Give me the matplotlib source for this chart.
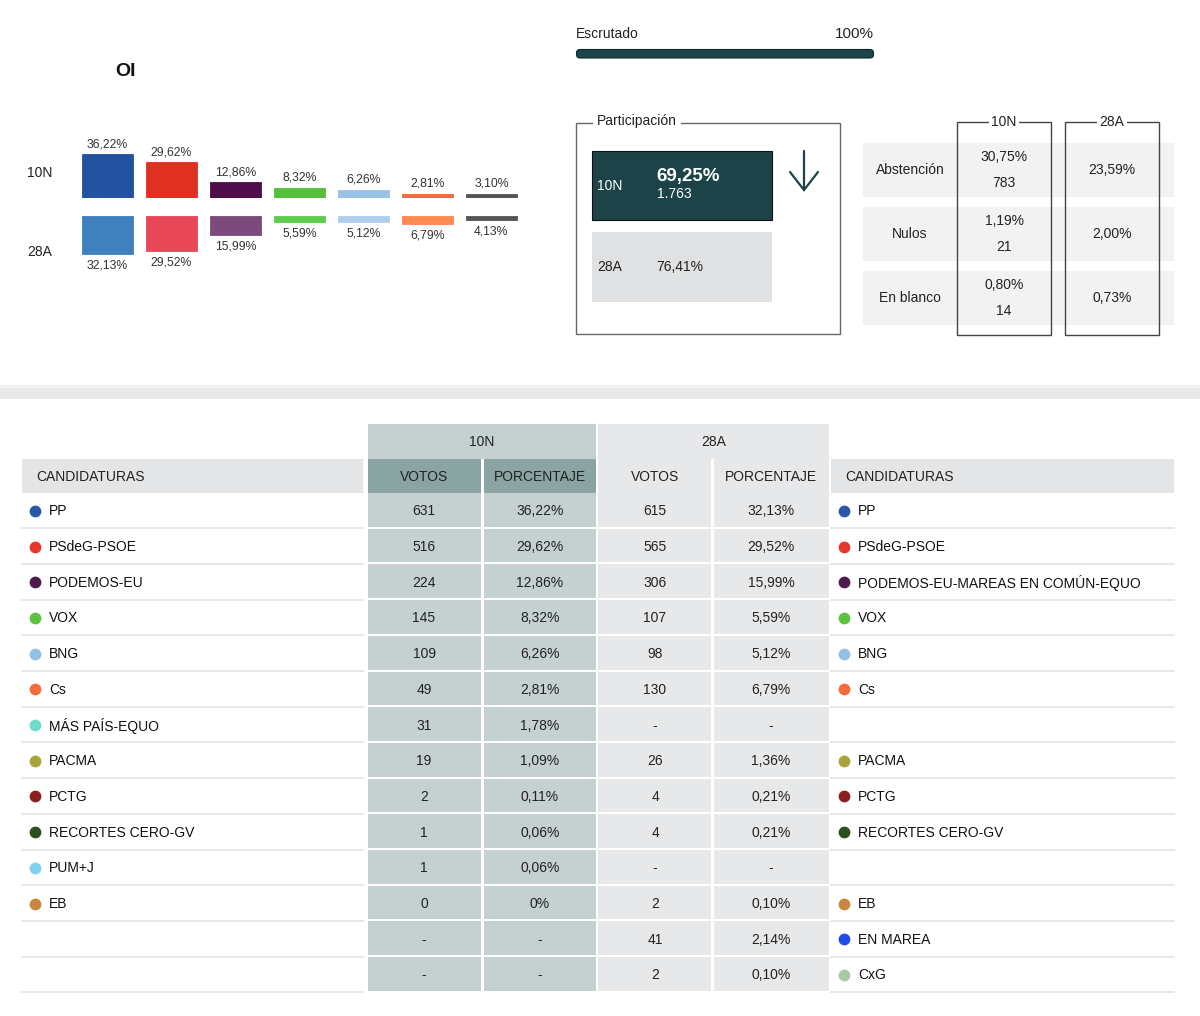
import matplotlib
matplotlib.use("Agg")
import matplotlib.pyplot as plt
from matplotlib.patches import Rectangle, FancyBboxPatch

plt.rcParams['font.family'] = ['Liberation Sans', 'DejaVu Sans']

# ---------------- data ----------------
title = "OI"
scrutiny_pct = 100
bar_parties = ["PP", "PSdeG-PSOE", "PODEMOS", "VOX", "BNG", "Cs", "Otros"]
bar_10n = [36.22, 29.62, 12.86, 8.32, 6.26, 2.81, 3.10]
bar_28a = [32.13, 29.52, 15.99, 5.59, 5.12, 6.79, 4.13]
bar_col_10n = ["#2353a0", "#e03022", "#4f0d4a", "#55c03c", "#98c3e6", "#f26a3e", "#555555"]
bar_col_28a = ["#3f80bf", "#e84757", "#7c4a7c", "#5ccd4a", "#aecfec", "#ff8a52", "#555555"]

part_10n_pct = "69,25%"
part_10n_votes = "1.763"
part_28a_pct = "76,41%"

side_labels = ["Abstención", "Nulos", "En blanco"]
side_10n_pct = ["30,75%", "1,19%", "0,80%"]
side_10n_num = ["783", "21", "14"]
side_28a_pct = ["23,59%", "2,00%", "0,73%"]

parties_10n = ["PP", "PSdeG-PSOE", "PODEMOS-EU", "VOX", "BNG", "Cs", "MÁS PAÍS-EQUO",
               "PACMA", "PCTG", "RECORTES CERO-GV", "PUM+J", "EB", "", ""]
votes_10n = ["631", "516", "224", "145", "109", "49", "31", "19", "2", "1", "1", "0", "-", "-"]
pct_10n = ["36,22%", "29,62%", "12,86%", "8,32%", "6,26%", "2,81%", "1,78%", "1,09%",
           "0,11%", "0,06%", "0,06%", "0%", "-", "-"]
votes_28a = ["615", "565", "306", "107", "98", "130", "-", "26", "4", "4", "-", "2", "41", "2"]
pct_28a = ["32,13%", "29,52%", "15,99%", "5,59%", "5,12%", "6,79%", "-", "1,36%",
           "0,21%", "0,21%", "-", "0,10%", "2,14%", "0,10%"]
parties_28a = ["PP", "PSdeG-PSOE", "PODEMOS-EU-MAREAS EN COMÚN-EQUO", "VOX", "BNG", "Cs", "",
               "PACMA", "PCTG", "RECORTES CERO-GV", "", "EB", "EN MAREA", "CxG"]
party_colors = {
    "PP": "#2a56a6", "PSdeG-PSOE": "#e2392b", "PODEMOS-EU": "#4e1a4f",
    "PODEMOS-EU-MAREAS EN COMÚN-EQUO": "#4e1a4f", "VOX": "#5cc23f", "BNG": "#93c0e3",
    "Cs": "#f76b3b", "MÁS PAÍS-EQUO": "#6fdcc8", "PACMA": "#a8a33a", "PCTG": "#8c1f1f",
    "RECORTES CERO-GV": "#2b4f1e", "PUM+J": "#7fd0f0", "EB": "#c8873e",
    "EN MAREA": "#1f4de8", "CxG": "#a9c8a5",
}

W, H = 1200, 1016
fig = plt.figure(figsize=(W / 100, H / 100), dpi=100)
ax = fig.add_axes([0, 0, 1, 1])
ax.set_xlim(0, W)
ax.set_ylim(H, 0)
ax.axis('off')

TXT = "#222222"

def fax(x0, y0, x1, y1):
    return fig.add_axes([x0 / W, 1 - y1 / H, (x1 - x0) / W, (y1 - y0) / H])

# ---------------- top-left bar chart ----------------
ax.text(115, 71, title, fontsize=14, fontweight='bold', ha='left', va='center', color="#111")
ax.text(27, 173, "10N", fontsize=10, ha='left', va='center', color=TXT)
ax.text(27, 252, "28A", fontsize=10, ha='left', va='center', color=TXT)

pxper = 1.19
xs = list(range(len(bar_parties)))
b1 = fax(75.5, 120, 523.5, 197.5)
b1.set_xlim(-0.5, len(xs) - 0.5)
b1.set_ylim(0, 77.5 / pxper)
b1.axis('off')
b1.bar(xs, bar_10n, width=0.8, color=bar_col_10n, edgecolor=bar_col_10n, linewidth=0.6)
for x, v in zip(xs, bar_10n):
    b1.annotate(f"{v:.2f}%".replace('.', ','), (x, v), xytext=(0, 3), textcoords='offset points',
                ha='center', va='bottom', fontsize=8.8, color="#333")

b2 = fax(75.5, 215.5, 523.5, 290)
b2.set_xlim(-0.5, len(xs) - 0.5)
b2.set_ylim(74.5 / pxper, 0)
b2.axis('off')
b2.bar(xs, bar_28a, width=0.8, color=bar_col_28a, edgecolor=bar_col_28a, linewidth=0.6)
for x, v in zip(xs, bar_28a):
    b2.annotate(f"{v:.2f}%".replace('.', ','), (x, v), xytext=(0, -4), textcoords='offset points',
                ha='center', va='top', fontsize=8.8, color="#333")

# ---------------- escrutado ----------------
ax.text(576, 34, "Escrutado", fontsize=10, ha='left', va='center', color=TXT)
ax.text(874, 34, f"{scrutiny_pct}%", fontsize=11, ha='right', va='center', color=TXT)
bar_w = (874 - 576) * scrutiny_pct / 100
ax.add_patch(FancyBboxPatch((579, 52), bar_w - 6, 3.5, boxstyle="round,pad=2.5,rounding_size=3.5",
                            facecolor="#1d4448", edgecolor="#0f2a2c", linewidth=0.8))

# ---------------- participación ----------------
ax.add_patch(Rectangle((576, 123), 264, 211, fill=False, edgecolor="#666", linewidth=1))
ax.text(597, 121, "Participación", fontsize=10, ha='left', va='center', color=TXT,
        bbox=dict(facecolor='white', edgecolor='none', pad=3))
ax.add_patch(Rectangle((592, 151), 180, 69, facecolor="#1c4347", edgecolor="#111", linewidth=0.8))
ax.text(597, 186, "10N", fontsize=10, ha='left', va='center', color='white')
ax.text(656, 176, part_10n_pct, fontsize=13.5, fontweight='bold', ha='left', va='center', color='white')
ax.text(657, 194, part_10n_votes, fontsize=10, ha='left', va='center', color='white')
ax.add_patch(Rectangle((592, 232), 180, 70, facecolor="#dfe1e2", edgecolor='none'))
ax.text(597, 267, "28A", fontsize=10, ha='left', va='center', color=TXT)
ax.text(656, 267, part_28a_pct, fontsize=10, ha='left', va='center', color=TXT)
ax.plot([804, 804], [151, 190], color="#1c4347", lw=1.6, solid_capstyle='round')
ax.plot([790, 804, 818], [172, 190, 172], color="#1c4347", lw=1.6, solid_capstyle='round',
        solid_joinstyle='miter')

# ---------------- side table ----------------
row_tops = [143, 207, 271]
for i, lab in enumerate(side_labels):
    t = row_tops[i]
    ax.add_patch(Rectangle((863, t), 311, 54, facecolor="#f2f2f2", edgecolor='none'))
    cy = t + 27
    ax.text(910, cy, lab, fontsize=10, ha='center', va='center', color=TXT)
    ax.text(1004, cy - 13, side_10n_pct[i], fontsize=10, ha='center', va='center', color=TXT)
    ax.text(1004, cy + 13, side_10n_num[i], fontsize=10, ha='center', va='center', color=TXT)
    ax.text(1112, cy, side_28a_pct[i], fontsize=10, ha='center', va='center', color=TXT)
for x0, lab in [(957, "10N"), (1065, "28A")]:
    ax.add_patch(Rectangle((x0, 122), 94, 213, fill=False, edgecolor="#444", linewidth=1))
    ax.text(x0 + 47, 122, lab, fontsize=10, ha='center', va='center', color=TXT,
            bbox=dict(facecolor='white', edgecolor='none', pad=2))

# ---------------- separator band ----------------
ax.add_patch(Rectangle((0, 385), W, 14, facecolor="#e9e9e9", edgecolor='none'))
ax.add_patch(Rectangle((0, 385), W, 3, facecolor="#f1f1f1", edgecolor='none'))

# ---------------- main table ----------------
C10 = "#c5d0d0"
C10H = "#8aa3a3"
C28 = "#e6e8e9"
CH = "#e4e5e6"
ax.add_patch(Rectangle((368, 424), 228, 35, facecolor=C10, edgecolor='none'))
ax.add_patch(Rectangle((598, 424), 231, 35, facecolor=C28, edgecolor='none'))
ax.text(482, 441.5, "10N", fontsize=10, ha='center', va='center', color=TXT)
ax.text(713.5, 441.5, "28A", fontsize=10, ha='center', va='center', color=TXT)

hy0, hy1 = 459, 493
ax.add_patch(Rectangle((22, hy0), 341, hy1 - hy0, facecolor=CH, edgecolor='none'))
ax.add_patch(Rectangle((831, hy0), 343, hy1 - hy0, facecolor=CH, edgecolor='none'))
ax.add_patch(Rectangle((368, hy0), 113, hy1 - hy0, facecolor=C10H, edgecolor='none'))
ax.add_patch(Rectangle((484, hy0), 112, hy1 - hy0, facecolor=C10H, edgecolor='none'))
ax.add_patch(Rectangle((598, hy0), 113, hy1 - hy0, facecolor=C28, edgecolor='none'))
ax.add_patch(Rectangle((714, hy0), 115, hy1 - hy0, facecolor=C28, edgecolor='none'))
hc = (hy0 + hy1) / 2 + 1
ax.text(36, hc, "CANDIDATURAS", fontsize=10, ha='left', va='center', color=TXT)
ax.text(845, hc, "CANDIDATURAS", fontsize=10, ha='left', va='center', color=TXT)
for x, lab in [(424, "VOTOS"), (540, "PORCENTAJE"), (655, "VOTOS"), (771, "PORCENTAJE")]:
    ax.text(x, hc, lab, fontsize=10, ha='center', va='center', color=TXT)

rh = 35.7
n = len(votes_10n)
for i in range(n):
    top = hy1 + i * rh
    cy = top + rh / 2 + 0.5
    ax.add_patch(Rectangle((368, top), 113, rh - 2, facecolor=C10, edgecolor='none'))
    ax.add_patch(Rectangle((484, top), 112, rh - 2, facecolor=C10, edgecolor='none'))
    ax.add_patch(Rectangle((598, top), 113, rh - 2, facecolor=C28, edgecolor='none'))
    ax.add_patch(Rectangle((714, top), 115, rh - 2, facecolor=C28, edgecolor='none'))
    ax.plot([22, 363], [top + rh - 0.5, top + rh - 0.5], color="#e3e3e3", lw=1.2)
    ax.plot([831, 1174], [top + rh - 0.5, top + rh - 0.5], color="#e3e3e3", lw=1.2)
    ax.text(424, cy, votes_10n[i], fontsize=10, ha='center', va='center', color=TXT)
    ax.text(540, cy, pct_10n[i], fontsize=10, ha='center', va='center', color=TXT)
    ax.text(655, cy, votes_28a[i], fontsize=10, ha='center', va='center', color=TXT)
    ax.text(771, cy, pct_28a[i], fontsize=10, ha='center', va='center', color=TXT)
    p = parties_10n[i]
    if p:
        ax.scatter([34.5], [cy - 0.5], s=72, color=party_colors[p], zorder=5, linewidths=0)
        ax.text(49, cy, p, fontsize=10, ha='left', va='center', color="#111")
    p = parties_28a[i]
    if p:
        ax.scatter([843.5], [cy - 0.5], s=72, color=party_colors[p], zorder=5, linewidths=0)
        ax.text(858, cy, p, fontsize=10, ha='left', va='center', color="#111")

fig.savefig("out.png", dpi=100, facecolor='white')
